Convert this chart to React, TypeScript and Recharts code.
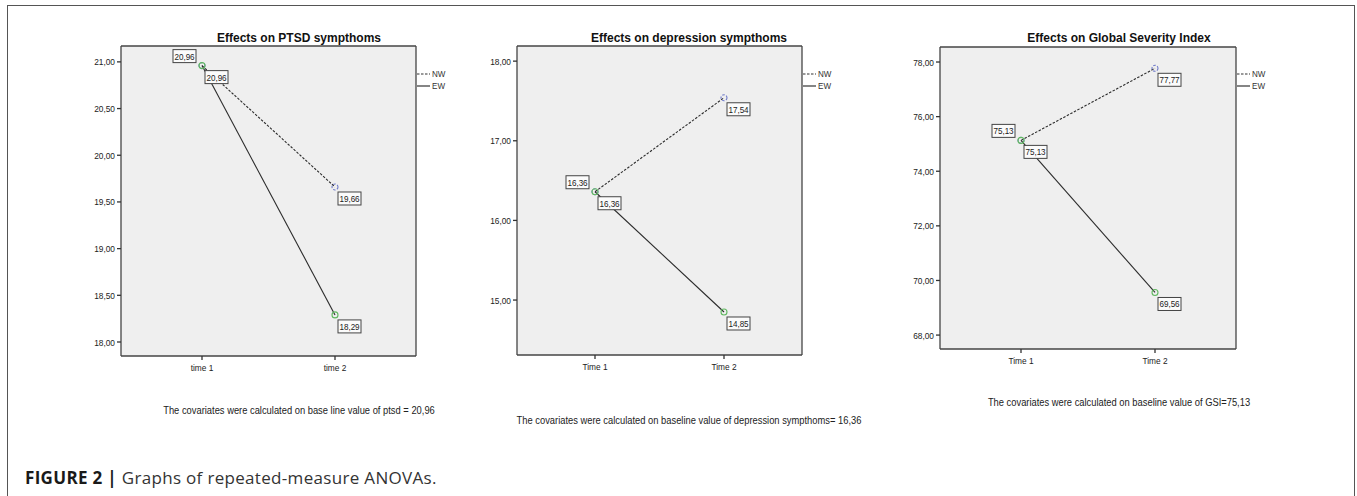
import { LineChart, Line, XAxis, YAxis, CartesianGrid, Legend, LabelList } from 'recharts';

// categories
const timesLower = ['time 1', 'time 2'];
const timesUpper = ['Time 1', 'Time 2'];

// estimated marginal means
const ptsdNW = [20.96, 19.66];
const ptsdEW = [20.96, 18.29];
const depNW = [16.36, 17.54];
const depEW = [16.36, 14.85];
const gsiNW = [75.13, 77.77];
const gsiEW = [75.13, 69.56];

// y ticks
const ptsdTicks = [18, 18.5, 19, 19.5, 20, 20.5, 21];
const depTicks = [15, 16, 17, 18];
const gsiTicks = [68, 70, 72, 74, 76, 78];

const ptsdDomain = [17.85, 21.17];
const depDomain = [14.31, 18.19];
const gsiDomain = [67.49, 78.55];

const series = [
  { key: 'nw', name: 'NW', dash: '2.5 1.5', marker: '#6d79c9' },
  { key: 'ew', name: 'EW', dash: undefined, marker: '#62b862' },
];

const sans = '"Liberation Sans", Arial, sans-serif';
const SQUEEZE = 0.85; // SPSS output uses a condensed face

const panels = [
  {
    title: 'Effects on PTSD sympthoms',
    note: 'The covariates were calculated on base line value of ptsd = 20,96',
    cats: timesLower, nw: ptsdNW, ew: ptsdEW, ticks: ptsdTicks, domain: ptsdDomain,
    box: { left: 121, top: 46, right: 416, bottom: 356 }, center: 299, noteY: 411,
  },
  {
    title: 'Effects on depression sympthoms',
    note: 'The covariates were calculated on baseline value of depression sympthoms= 16,36',
    cats: timesUpper, nw: depNW, ew: depEW, ticks: depTicks, domain: depDomain,
    box: { left: 517, top: 46, right: 802, bottom: 355 }, center: 689, noteY: 421,
  },
  {
    title: 'Effects on Global Severity Index',
    note: 'The covariates were calculated on baseline value of GSI=75,13',
    cats: timesUpper, nw: gsiNW, ew: gsiEW, ticks: gsiTicks, domain: gsiDomain,
    box: { left: 940, top: 47, right: 1236, bottom: 349 }, center: 1119, noteY: 403,
  },
];

const fmt = (v: number) => Number(v).toFixed(2).replace('.', ',');

function NarrowText({ x, y, anchor, dy, size, children }: any) {
  return (
    <g transform={`translate(${x},${y}) scale(${SQUEEZE},1)`}>
      <text x={0} y={0} dy={dy} textAnchor={anchor} fontSize={size} fontFamily={sans} fill="#222">{children}</text>
    </g>
  );
}

function YTick(props: any) {
  return <NarrowText x={props.x} y={props.y} anchor="end" dy="0.36em" size={9.8}>{fmt(props.payload.value)}</NarrowText>;
}

function XTick(props: any) {
  return <NarrowText x={props.x} y={props.y} anchor="middle" dy="0.72em" size={9.8}>{props.payload.value}</NarrowText>;
}

function BoxLabel(props: any) {
  const x = props.x ?? props.viewBox?.x;
  const y = props.y ?? props.viewBox?.y;
  if (x == null || y == null) return null;
  const w = 23;
  const h = 13;
  const above = props.flip && props.index === 0;
  const bx = above ? x - 6 - w : x + 3;
  const by = above ? y - 3 - h : y + 5;
  return (
    <g>
      <rect x={bx} y={by} width={w} height={h} fill="#fbfbfb" stroke="#444" strokeWidth={1} />
      <NarrowText x={bx + w / 2} y={by + h / 2} anchor="middle" dy="0.36em" size={9.5}>{fmt(props.value)}</NarrowText>
    </g>
  );
}

const renderLegend = () => (
  <div style={{ fontFamily: sans, fontSize: 9.5, color: '#333', lineHeight: '12px' }}>
    {series.map((s) => (
      <div key={s.key} style={{ display: 'flex', alignItems: 'center', height: 12 }}>
        <svg width={13} height={4} style={{ marginRight: 2 }}>
          <line x1={0} y1={2} x2={13} y2={2} stroke="#333" strokeWidth={1.2} strokeDasharray={s.dash} />
        </svg>
        <span style={{ display: 'inline-block', transform: `scaleX(${SQUEEZE})`, transformOrigin: 'left center' }}>{s.name}</span>
      </div>
    ))}
  </div>
);

const YW = 60;
const XH = 30;
const LEG = 50;

function Panel({ p }: any) {
  const { left, top, right, bottom } = p.box;
  const pw = right - left;
  const pad = Math.round(pw * 0.273);
  const rows = p.cats.map((c: string, i: number) => ({ time: c, nw: p.nw[i], ew: p.ew[i] }));
  const axisStyle = { stroke: '#444', strokeWidth: 1.3 };
  return (
    <div style={{ position: 'absolute', left: left - YW, top: 0 }}>
      <LineChart width={pw + YW + LEG} height={bottom + XH + 4} data={rows}
        margin={{ top: top - 1, right: LEG - 1, bottom: 4, left: 0 }}>
        <CartesianGrid fill="#efefef" horizontal={false} vertical={false} />
        <XAxis dataKey="time" type="category" padding={{ left: pad, right: pad }} height={XH}
          axisLine={axisStyle} tickLine={{ stroke: '#333', strokeWidth: 1.3 }} tickSize={4} tickMargin={4}
          tick={<XTick />} interval={0} />
        <XAxis xAxisId="top" dataKey="time" orientation="top" height={1} tick={false} tickLine={false}
          axisLine={axisStyle} padding={{ left: pad, right: pad }} />
        <YAxis type="number" domain={p.domain} ticks={p.ticks} allowDataOverflow width={YW}
          axisLine={axisStyle} tickLine={{ stroke: '#333', strokeWidth: 1.3 }}
          tickSize={4} tickMargin={2} tick={<YTick />} interval={0} />
        <YAxis yAxisId="r" orientation="right" type="number" domain={p.domain} allowDataOverflow width={1}
          tick={false} tickLine={false} axisLine={axisStyle} />
        <Legend layout="vertical" align="center" verticalAlign="middle" content={renderLegend}
          wrapperStyle={{ left: YW + pw + 1, top: 68, width: 45, height: 24 }} />
        {series.map((s) => (
          <Line key={s.key} dataKey={s.key} name={s.name} stroke="#2b2b2b" strokeWidth={1.1}
            strokeDasharray={s.dash} isAnimationActive={false} activeDot={false}
            dot={{ r: 3, stroke: s.marker, strokeWidth: 1.1, fill: 'none' }}>
            <LabelList dataKey={s.key} content={<BoxLabel flip={s.key === 'nw'} />} />
          </Line>
        ))}
      </LineChart>
    </div>
  );
}

export default function App() {
  return (
    <div style={{ position: 'absolute', left: 0, top: 0, width: 1357, height: 496, background: '#fff', overflow: 'hidden' }}>
      <div style={{ position: 'absolute', left: 7, top: 5, width: 1346, height: 600,
        borderLeft: '1.5px solid #555', borderTop: '1.5px solid #555', borderRight: '1.5px solid #555' }} />
      {panels.map((p, i) => (
        <div key={i}>
          <Panel p={p} />
          <div style={{ position: 'absolute', left: p.center, top: 31, transform: 'translateX(-50%)',
            whiteSpace: 'nowrap', font: `bold 12px ${sans}`, color: '#111' }}>{p.title}</div>
          <div style={{ position: 'absolute', left: p.center, top: p.noteY - 7, transform: `translateX(-50%) scaleX(${SQUEEZE})`,
            whiteSpace: 'nowrap', fontFamily: sans, fontSize: 11, color: '#222' }}>{p.note}</div>
        </div>
      ))}
      <div style={{ position: 'absolute', left: 25, top: 466, whiteSpace: 'nowrap',
        fontFamily: '"Open Sans", sans-serif', fontSize: 17, letterSpacing: 0.32, color: '#333' }}>
        <b style={{ color: '#1a1a1a' }}>FIGURE 2 |</b> Graphs of repeated-measure ANOVAs.
      </div>
    </div>
  );
}
